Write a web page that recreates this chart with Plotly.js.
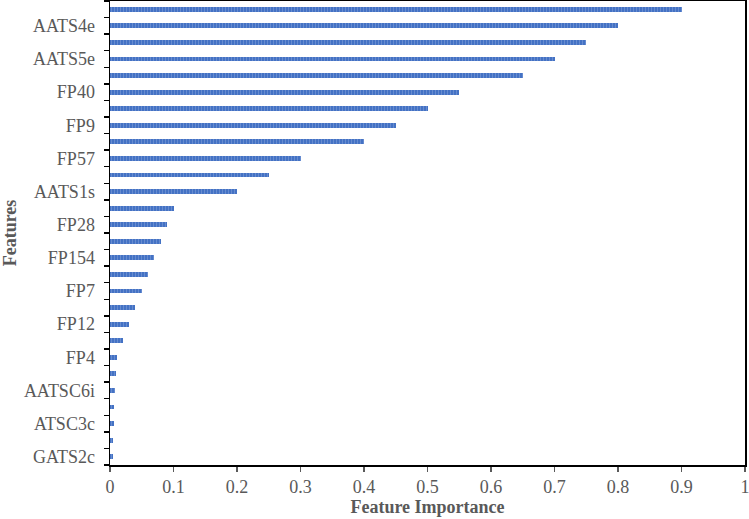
<!DOCTYPE html>
<html>
<head>
<meta charset="utf-8">
<script src="https://cdn.plot.ly/plotly-3.0.1.min.js"></script>
<style>html,body{margin:0;padding:0;background:#fff;}#chart{width:749px;height:519px;}</style>
</head>
<body>
<div id="chart"></div>
<script>
// Features from top to bottom (only every other one is labelled in the original)
const featureLabels = ['', 'AATS4e', '', 'AATS5e', '', 'FP40', '', 'FP9', '', 'FP57', '', 'AATS1s', '', 'FP28', '', 'FP154', '', 'FP7', '', 'FP12', '', 'FP4', '', 'AATSC6i', '', 'ATSC3c', '', 'GATS2c'];
const importance = [0.90, 0.80, 0.75, 0.70, 0.65, 0.55, 0.50, 0.45, 0.40, 0.30, 0.25, 0.20, 0.10, 0.09, 0.08, 0.07, 0.06, 0.05, 0.04, 0.03, 0.02, 0.011, 0.0095, 0.008, 0.007, 0.006, 0.005, 0.004];
const xTickVals = [0, 0.1, 0.2, 0.3, 0.4, 0.5, 0.6, 0.7, 0.8, 0.9, 1];
const xTickText = ['0', '0.1', '0.2', '0.3', '0.4', '0.5', '0.6', '0.7', '0.8', '0.9', '1'];

const pos = featureLabels.map((_, i) => i);
const labelVals = pos.filter(i => featureLabels[i] !== '');
const labelText = labelVals.map(i => featureLabels[i]);

const trace = {
  type: 'bar',
  orientation: 'h',
  x: importance,
  y: pos,
  width: 0.3,
  marker: {
    color: '#4472C4',
    line: {width: 0},
    pattern: {shape: '|', fgcolor: '#7f9dd8', bgcolor: '#4472C4', size: 3, solidity: 0.2}
  },
  hoverinfo: 'x'
};

const font = {family: 'Liberation Serif, Times New Roman, serif', color: '#595959'};

const layout = {
  width: 749, height: 519,
  margin: {l: 110, r: 4, t: 1, b: 54},
  paper_bgcolor: '#fff', plot_bgcolor: '#fff',
  showlegend: false,
  bargap: 0,
  xaxis: {
    range: [0, 1],
    tickvals: xTickVals, ticktext: xTickText,
    ticklabeloverflow: 'allow',
    ticks: 'outside', ticklen: 5, tickcolor: '#595959', tickwidth: 1.5,
    showgrid: false, zeroline: false,
    showline: true, linecolor: '#000', linewidth: 1.5, mirror: true,
    tickfont: Object.assign({size: 18}, font),
    title: {text: '<b>Feature Importance</b>', font: Object.assign({size: 18}, font), standoff: 4}
  },
  yaxis: {
    range: [featureLabels.length - 0.5, -0.5],
    tickmode: 'array', tickvals: labelVals, ticktext: labelText,
    ticks: '', ticklen: 0,
    minor: {tickmode: 'linear', tick0: 0.5, dtick: 1, ticks: 'outside', ticklen: 5, tickcolor: '#000', tickwidth: 1.5, showgrid: false},
    showgrid: false, zeroline: false,
    showline: true, linecolor: '#000', linewidth: 1.5, mirror: true,
    tickfont: Object.assign({size: 18}, font),
    ticklabelstandoff: 10,
    title: {text: '<b>Features</b>', font: Object.assign({size: 18}, font), standoff: 8}
  }
};

Plotly.newPlot('chart', [trace], layout, {displayModeBar: false, staticPlot: true});
</script>
</body>
</html>
